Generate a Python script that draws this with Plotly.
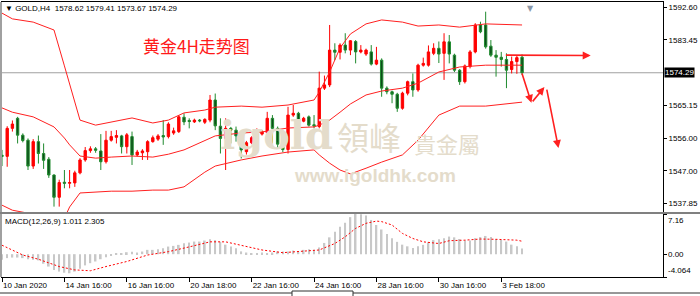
import plotly.graph_objects as go

# ---------------- data ----------------
bar_idx = list(range(101))
open_ = [1551.3, 1551.0, 1558.8, 1561.6, 1556.9, 1555.5, 1548.3, 1555.1, 1551.8, 1550.2,
         1545.8, 1539.6, 1543.8, 1543.5, 1543.6, 1546.4, 1550.0, 1552.6, 1553.1, 1552.5,
         1549.5, 1555.5, 1556.3, 1556.7, 1553.7, 1556.5, 1551.4, 1552.0, 1552.3, 1555.1,
         1555.8, 1556.8, 1556.5, 1557.5, 1557.9, 1561.9, 1561.0, 1560.6, 1561.1, 1560.5,
         1561.1, 1566.7, 1559.4, 1556.0, 1558.8, 1558.3, 1556.7, 1552.3, 1554.8, 1555.7,
         1557.2, 1557.6, 1561.6, 1558.8, 1554.4, 1552.9, 1562.5, 1563.0, 1560.8, 1562.0,
         1559.8, 1559.3, 1570.0, 1570.9, 1580.6, 1580.0, 1582.0, 1580.6, 1583.0, 1580.1,
         1579.5, 1580.1, 1576.7, 1577.8, 1570.0, 1569.0, 1568.3, 1564.4, 1568.6, 1571.8,
         1569.5, 1576.4, 1576.4, 1579.7, 1581.1, 1579.7, 1582.9, 1579.2, 1575.0, 1571.8,
         1576.0, 1580.1, 1587.6, 1587.6, 1581.7, 1579.2, 1578.6, 1578.0, 1575.2, 1577.4,
         1578.62]
high_ = [1552.8, 1559.4, 1561.0, 1562.0, 1557.4, 1556.0, 1555.8, 1556.8, 1554.6, 1550.8,
         1546.0, 1544.5, 1547.2, 1547.2, 1547.0, 1550.5, 1553.6, 1553.8, 1553.6, 1557.2,
         1558.1, 1558.1, 1558.3, 1557.0, 1557.5, 1557.9, 1552.8, 1553.0, 1555.5, 1556.8,
         1557.2, 1561.1, 1560.5, 1559.0, 1562.5, 1563.0, 1561.6, 1561.5, 1561.4, 1561.6,
         1568.1, 1568.5, 1561.6, 1561.6, 1559.2, 1559.3, 1557.8, 1555.3, 1556.6, 1558.8,
         1558.3, 1563.4, 1562.5, 1559.3, 1554.8, 1564.8, 1565.3, 1563.4, 1562.0, 1562.4,
         1562.5, 1574.6, 1573.5, 1587.6, 1582.5, 1582.5, 1585.3, 1583.4, 1583.4, 1582.0,
         1581.0, 1582.0, 1581.5, 1578.3, 1570.5, 1569.3, 1568.7, 1569.0, 1572.1, 1574.1,
         1576.8, 1578.5, 1581.9, 1582.5, 1583.0, 1585.3, 1584.8, 1579.6, 1575.3, 1576.6,
         1580.6, 1588.1, 1588.5, 1591.3, 1583.4, 1580.6, 1580.1, 1579.7, 1578.8, 1579.0,
         1579.41]
low_ = [1548.3, 1548.1, 1557.9, 1554.6, 1554.9, 1547.2, 1547.5, 1549.0, 1547.5, 1545.0,
        1537.0, 1537.0, 1542.1, 1542.1, 1542.5, 1546.0, 1549.5, 1552.0, 1552.0, 1547.2,
        1549.0, 1555.1, 1554.6, 1551.8, 1551.8, 1548.6, 1551.0, 1550.0, 1550.0, 1554.8,
        1555.3, 1554.2, 1556.0, 1557.0, 1557.5, 1559.7, 1558.8, 1560.3, 1560.5, 1560.0,
        1560.5, 1558.3, 1551.8, 1547.2, 1554.6, 1555.1, 1550.4, 1551.5, 1554.4, 1555.5,
        1556.8, 1557.4, 1554.6, 1553.2, 1552.2, 1551.8, 1562.0, 1560.3, 1560.5, 1559.3,
        1558.8, 1558.8, 1569.5, 1570.3, 1577.8, 1578.0, 1579.7, 1579.2, 1576.9, 1579.7,
        1579.0, 1576.3, 1576.4, 1567.6, 1568.3, 1565.8, 1563.4, 1564.0, 1568.0, 1567.6,
        1569.0, 1576.0, 1576.0, 1579.2, 1577.0, 1572.3, 1576.9, 1574.5, 1570.9, 1571.3,
        1575.5, 1579.7, 1585.3, 1581.0, 1578.7, 1573.2, 1576.0, 1570.0, 1574.1, 1574.0,
        1573.67]
close_ = [1551.0, 1558.8, 1560.0, 1556.9, 1555.4, 1548.3, 1555.1, 1551.8, 1549.9, 1545.8,
          1539.6, 1543.7, 1543.5, 1543.7, 1546.4, 1550.0, 1552.6, 1553.1, 1552.7, 1549.5,
          1555.5, 1556.5, 1556.8, 1553.7, 1557.0, 1551.4, 1552.2, 1552.5, 1555.1, 1556.2,
          1556.7, 1556.4, 1560.0, 1558.1, 1562.0, 1560.6, 1560.7, 1561.1, 1560.9, 1561.3,
          1566.7, 1559.5, 1556.0, 1558.8, 1558.3, 1556.7, 1552.8, 1554.8, 1556.2, 1557.2,
          1557.9, 1561.6, 1558.8, 1554.4, 1552.9, 1562.5, 1563.0, 1560.8, 1561.6, 1559.7,
          1559.5, 1570.0, 1570.9, 1580.6, 1580.0, 1582.0, 1580.6, 1583.2, 1580.1, 1580.6,
          1580.6, 1576.7, 1577.8, 1570.0, 1569.0, 1568.3, 1564.4, 1568.6, 1571.8, 1569.5,
          1576.4, 1576.9, 1580.1, 1581.1, 1579.5, 1582.9, 1579.5, 1575.0, 1571.8, 1576.2,
          1580.1, 1587.6, 1585.7, 1581.5, 1579.2, 1578.6, 1578.0, 1575.0, 1577.4, 1578.5,
          1574.29]

# Bollinger bands read at sample bars
band_idx = [0, 2, 6, 10, 12, 13, 15, 18, 21, 25, 29, 32, 35, 39, 41, 46, 50, 55, 60, 61,
            63, 65, 67, 70, 73, 77, 80, 84, 88, 93, 100]
bb_upper = [1590.9, 1589.3, 1588.4, 1586.2, 1576.2, 1571.1, 1561.1, 1559.7, 1560.6, 1561.7,
            1560.3, 1561.1, 1563.1, 1563.9, 1564.7, 1565.0, 1564.7, 1565.3, 1566.7, 1568.9,
            1574.5, 1581.2, 1585.1, 1587.9, 1589.0, 1588.4, 1587.3, 1587.6, 1587.0, 1587.9,
            1587.6]
bb_mid = [1564.5, 1563.3, 1562.0, 1559.2, 1556.1, 1554.2, 1551.1, 1550.5, 1550.8, 1551.1,
          1550.8, 1551.6, 1552.8, 1555.3, 1556.7, 1557.5, 1557.8, 1558.9, 1559.2, 1559.7,
          1561.1, 1563.3, 1565.6, 1568.1, 1569.2, 1570.0, 1571.4, 1574.5, 1575.9, 1576.4,
          1576.4]
bb_lower = [1537.4, 1536.0, 1534.9, 1532.1, 1533.8, 1536.9, 1540.8, 1541.1, 1541.3, 1541.3,
            1541.6, 1541.6, 1542.5, 1546.6, 1548.3, 1550.0, 1551.1, 1552.2, 1552.8, 1551.4,
            1549.1, 1547.2, 1546.1, 1547.7, 1549.4, 1551.4, 1555.5, 1562.5, 1565.0, 1565.0,
            1566.1]

# MACD (12,26,9)
macd_hist = [-1.0, -0.7, -0.6, -0.6, -0.7, -0.9, -1.0, -1.1, -1.7, -2.2,
             -2.8, -3.1, -3.3, -3.4, -3.1, -2.6, -2.0, -1.6, -1.3, -0.9,
             -0.55, -0.15, 0.05, 0.2, 0.35, 0.45, 0.3, 0.47, 0.77, 0.77,
             0.9, 1.06, 1.36, 1.48, 1.66, 1.95, 2.07, 2.25, 2.25, 2.43,
             2.67, 2.5, 2.2, 1.7, 1.36, 1.06, 0.5, 0.3, 0.17, 0.17,
             0.3, 0.17, 0.3, 0.47, 0.47, 0.47, 0.65, 0.47, 0.77, 0.89,
             0.77, 1.2, 2.0, 3.0, 4.0, 4.9, 5.6, 6.6, 7.16, 7.1,
             6.9, 6.1, 5.2, 4.4, 3.6, 2.85, 2.2, 1.7, 1.4, 1.1,
             1.4, 1.66, 2.1, 2.5, 2.67, 2.85, 3.14, 3.0, 2.7, 2.45,
             2.45, 2.85, 3.05, 3.25, 3.05, 2.7, 2.55, 2.25, 1.7, 1.4,
             1.011]
sig_idx = [0, 4, 7, 11, 14, 17, 20, 24, 28, 32, 36, 40, 43, 46, 50, 54, 57, 61, 64, 66,
           68, 70, 72, 73, 75, 77, 79, 81, 84, 86, 89, 92, 95, 99, 100]
macd_signal = [1.6, -0.15, -0.9, -2.2, -2.8, -2.95, -2.2, -1.3, -0.15, 0.45, 1.3, 2.2, 2.2,
               1.6, 0.75, 0.27, 0.45, 0.75, 1.9, 3.1, 4.6, 5.5, 5.9, 5.8, 5.2, 3.7, 2.8,
               2.2, 1.9, 2.4, 2.5, 2.7, 2.65, 2.5, 2.305]

tick_idx = [0, 12, 24, 36, 48, 60, 72, 84, 96]
tick_text = ["10 Jan 2020", "14 Jan 16:00", "16 Jan 16:00", "20 Jan 18:00", "22 Jan 16:00",
             "24 Jan 16:00", "28 Jan 16:00", "30 Jan 16:00", "3 Feb 18:00"]
price_ticks = [1592.60, 1583.45, 1565.15, 1556.00, 1547.00, 1537.85]
macd_ticks = [7.16, 0.00, -4.064]

# ---------------- layout helpers ----------------
W, H = 700, 296
ML, MR, MT, MB = 2, 37, 2, 19
PW, PH = W - ML - MR, H - MT - MB
FONT = "Liberation Sans"


def px(x, y):
    return (x - ML) / PW, (H - MB - y) / PH


main_dom = [(H - MB - 212) / PH, 1.0]
macd_dom = [0.0, (H - MB - 214) / PH]
xr = [0, 127.1]

fig = go.Figure()

fig.add_trace(go.Candlestick(
    x=bar_idx, open=open_, high=high_, low=low_, close=close_,
    increasing=dict(line=dict(color="#ff0000", width=1), fillcolor="#ff0000"),
    decreasing=dict(line=dict(color="#1f8a2e", width=1), fillcolor="#0d4d1a"),
    whiskerwidth=0, showlegend=False, xaxis="x", yaxis="y", hoverinfo="skip"))

for band in (bb_upper, bb_mid, bb_lower):
    fig.add_trace(go.Scatter(x=band_idx, y=band, mode="lines",
                             line=dict(color="#ff2020", width=1),
                             showlegend=False, xaxis="x", yaxis="y", hoverinfo="skip"))

fig.add_trace(go.Bar(x=bar_idx, y=macd_hist, width=0.32, marker=dict(color="#c8c8c8", line=dict(width=0)),
                     showlegend=False, xaxis="x2", yaxis="y2", hoverinfo="skip"))
fig.add_trace(go.Scatter(x=sig_idx, y=macd_signal, mode="lines",
                         line=dict(color="#ff0000", width=1, dash="2px,2px"),
                         showlegend=False, xaxis="x2", yaxis="y2", hoverinfo="skip"))

ann = []
# header
ann.append(dict(xref="paper", yref="paper", x=px(3, 0)[0], y=px(0, 8)[1], xanchor="left", yanchor="middle",
                text="▼ GOLD,H4  " + " ".join(f"{v:.2f}" for v in (open_[-1], high_[-1], low_[-1], close_[-1])),
                showarrow=False, font=dict(family=FONT, size=8, color="#000")))
ann.append(dict(xref="paper", yref="paper", x=px(3, 0)[0], y=px(0, 221)[1], xanchor="left", yanchor="middle",
                text=f"MACD(12,26,9) {macd_hist[-1]:.3f} {macd_signal[-1]:.3f}",
                showarrow=False, font=dict(family=FONT, size=8, color="#000")))
# chinese label
ann.append(dict(xref="paper", yref="paper", x=px(196, 0)[0], y=px(0, 45)[1], xanchor="center", yanchor="middle",
                text="黄金4H走势图", showarrow=False,
                font=dict(family="Noto Sans CJK SC", size=17, color="#ff1a1a")))
# watermark
wm = "#e4dccb"
ann.append(dict(xref="paper", yref="paper", x=px(276, 0)[0], y=px(0, 134)[1], xanchor="center", yanchor="middle",
                text="<b>igold</b>", showarrow=False, font=dict(family="DejaVu Serif", size=40, color=wm)))
ann.append(dict(xref="paper", yref="paper", x=px(369, 0)[0], y=px(0, 136)[1], xanchor="center", yanchor="middle",
                text="領峰", showarrow=False, font=dict(family="Noto Sans CJK TC", size=32, color=wm)))
ann.append(dict(xref="paper", yref="paper", x=px(447, 0)[0], y=px(0, 143)[1], xanchor="center", yanchor="middle",
                text="貴金屬", showarrow=False, font=dict(family="Noto Sans CJK TC", size=22, color=wm)))
ann.append(dict(xref="paper", yref="paper", x=px(375, 0)[0], y=px(0, 175)[1], xanchor="center", yanchor="middle",
                text="<b>www.igoldhk.com</b>", showarrow=False, font=dict(family=FONT, size=19, color=wm)))
# current price label
ann.append(dict(xref="paper", yref="y", x=1, y=close_[-1], xanchor="left", yanchor="middle", xshift=1,
                text=f"{close_[-1]:.2f}", showarrow=False, bgcolor="#000", borderpad=0,
                font=dict(family=FONT, size=8, color="#fff")))
# macd labels
for v, anchor in zip(macd_ticks, ["top", "middle", "bottom"]):
    ann.append(dict(xref="paper", yref="y2", x=1, y=v, xanchor="left", yanchor=anchor, xshift=3,
                    text=(f"{v:.2f}" if v != macd_ticks[-1] else f"{v:.3f}"), showarrow=False,
                    font=dict(family=FONT, size=8, color="#000")))
# chart-shift marker
ann.append(dict(xref="paper", yref="paper", x=px(530, 0)[0], y=1, xanchor="center", yanchor="top",
                text="▼", showarrow=False, font=dict(family="DejaVu Sans", size=8, color="#8a96a6")))
# arrows (drawn annotations)
arrows = [((96.6, 1579.2), (113.2, 1579.1)),
          ((99.9, 1574.5), (101.8, 1565.9)),
          ((101.8, 1565.9), (104.3, 1570.3)),
          ((104.7, 1570.0), (107.0, 1553.3))]
for (tx, ty), (hx, hy) in arrows:
    ann.append(dict(xref="x", yref="y", axref="x", ayref="y", x=hx, y=hy, ax=tx, ay=ty, text="",
                    showarrow=True, arrowhead=2, arrowsize=1, arrowwidth=1.6, arrowcolor="#ff2020",
                    standoff=0, startstandoff=0))

shapes = [
    dict(type="line", xref="paper", yref="y", x0=0, x1=1, y0=close_[-1], y1=close_[-1],
         line=dict(color="#a0a0a0", width=1), layer="below"),
    dict(type="line", xref="paper", yref="paper", x0=px(1, 0)[0], x1=px(1, 0)[0], y0=0, y1=1,
         line=dict(color="#a0a0a0", width=2)),
    dict(type="line", xref="paper", yref="paper", x0=px(0, 0)[0], x1=px(700, 0)[0],
         y0=px(0, 213)[1], y1=px(0, 213)[1], line=dict(color="#808080", width=2)),
    dict(type="line", xref="paper", yref="paper", x0=px(0, 0)[0], x1=px(292, 0)[0],
         y0=px(0, 293)[1], y1=px(0, 293)[1], line=dict(color="#303030", width=1)),
    dict(type="line", xref="paper", yref="paper", x0=px(353, 0)[0], x1=px(700, 0)[0],
         y0=px(0, 293)[1], y1=px(0, 293)[1], line=dict(color="#303030", width=1)),
    dict(type="rect", xref="paper", yref="paper", x0=px(292, 0)[0], x1=px(353, 0)[0],
         y0=px(0, 298)[1], y1=px(0, 291)[1], line=dict(color="#303030", width=1), fillcolor="#fff"),
]

axis_common = dict(showgrid=False, zeroline=False, showline=True, mirror=True, linecolor="#000", linewidth=1)

fig.update_layout(
    width=W, height=H, margin=dict(l=ML, r=MR, t=MT, b=MB, pad=0),
    paper_bgcolor="#fff", plot_bgcolor="#fff", showlegend=False,
    boxgap=0.35,
    xaxis=dict(domain=[0, 1], range=xr, anchor="y", showticklabels=False, ticks="",
               rangeslider=dict(visible=False), **axis_common),
    yaxis=dict(domain=main_dom, range=[1535.5, 1594.0], side="right", anchor="x",
               tickvals=price_ticks, ticktext=[f"{v:.2f}" for v in price_ticks],
               ticks="outside", ticklen=3, tickcolor="#000",
               tickfont=dict(family=FONT, size=8, color="#000"), **axis_common),
    xaxis2=dict(domain=[0, 1], range=xr, anchor="y2", tickvals=tick_idx, ticktext=tick_text,
                ticks="outside", ticklen=4, tickcolor="#000", ticklabelposition="outside right",
                tickfont=dict(family=FONT, size=8, color="#000"), **axis_common),
    yaxis2=dict(domain=macd_dom, range=[-4.064, 7.16], side="right", anchor="x2",
                tickvals=macd_ticks, ticktext=["", "", ""], ticks="outside", ticklen=3, tickcolor="#000",
                **axis_common),
    annotations=ann, shapes=shapes,
)

fig.write_html("out.html")
